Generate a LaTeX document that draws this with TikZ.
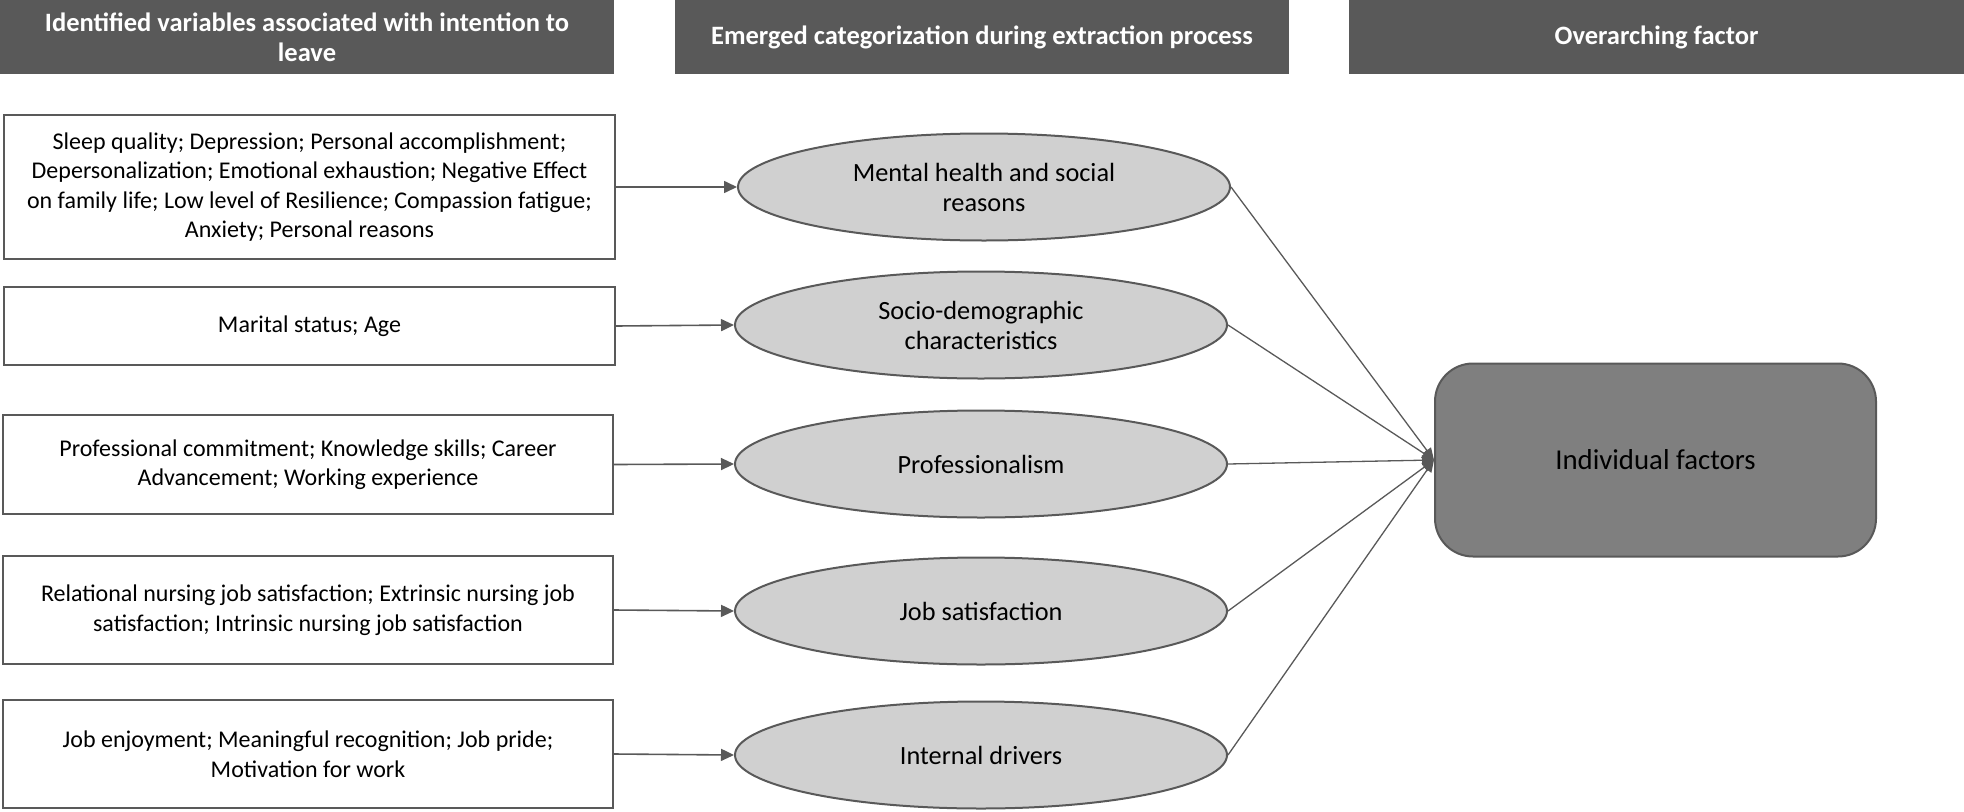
\documentclass[tikz,border=0pt]{standalone}
\usepackage{fontspec}
\setmainfont{Carlito}
\usetikzlibrary{shapes.geometric,arrows.meta}
\definecolor{hdr}{HTML}{595959}
\definecolor{edgec}{HTML}{595959}
\definecolor{ellc}{HTML}{D0D0D0}
\definecolor{indiv}{HTML}{7F7F7F}
\tikzset{
  header/.style={fill=hdr, draw=none, text=white, align=center, inner sep=0pt,
    font=\bfseries\fontsize{26.5pt}{30pt}\selectfont, minimum height=74pt},
  varbox/.style={draw=edgec, line width=2pt, fill=white, align=center, inner sep=0pt,
    font=\fontsize{24pt}{29.5pt}\selectfont},
  catell/.style={ellipse, draw=edgec, line width=2pt, fill=ellc, align=center, inner sep=0pt,
    minimum width=492pt, minimum height=107pt, font=\fontsize{26.3pt}{30pt}\selectfont},
  factbox/.style={rectangle, rounded corners=38pt, draw=edgec, line width=2pt, fill=indiv,
    minimum width=441pt, minimum height=193pt, font=\fontsize{28.8pt}{32pt}\selectfont},
  arr/.style={draw=edgec, line width=1.6pt, -{Triangle[length=13pt,width=12pt]}},
  conv/.style={draw=edgec, line width=1.3pt, -{Triangle[length=12pt,width=10pt]}}
}
\begin{document}
\begin{tikzpicture}[x=1pt,y=-1pt]
\useasboundingbox (0,0) rectangle (1964,811);
% headers
\node[header, minimum width=614pt] (h1) at (307,37) {Identified variables associated with intention to\\leave};
\node[header, minimum width=614pt] (h2) at (982,37) {Emerged categorization during extraction process};
\node[header, minimum width=615pt] (h3) at (1656.5,37) {Overarching factor};
% left boxes
\node[varbox, minimum width=611pt, minimum height=144pt] (b1) at (309.5,187) {Sleep quality; Depression; Personal accomplishment;\\Depersonalization; Emotional exhaustion; Negative Effect\\on family life; Low level of Resilience; Compassion fatigue;\\Anxiety; Personal reasons};
\node[varbox, minimum width=611pt, minimum height=78pt] (b2) at (309.5,326) {Marital status; Age};
\node[varbox, minimum width=610pt, minimum height=99pt] (b3) at (308,464.5) {Professional commitment; Knowledge skills; Career\\Advancement; Working experience};
\node[varbox, minimum width=610pt, minimum height=108pt] (b4) at (308,610) {Relational nursing job satisfaction; Extrinsic nursing job\\satisfaction; Intrinsic nursing job satisfaction};
\node[varbox, minimum width=610pt, minimum height=108pt] (b5) at (308,754) {Job enjoyment; Meaningful recognition; Job pride;\\Motivation for work};
% ellipses
\node[catell] (e1) at (984,187) {Mental health and social\\reasons};
\node[catell] (e2) at (981,325) {Socio-demographic\\characteristics};
\node[catell] (e3) at (981,464) {Professionalism};
\node[catell] (e4) at (981,611) {Job satisfaction};
\node[catell] (e5) at (981,755) {Internal drivers};
% overarching factor
\node[factbox] (f) at (1655.5,460) {Individual factors};
% arrows
\draw[arr] (b1.east) -- (e1.west);
\draw[arr] (b2.east) -- (e2.west);
\draw[arr] (b3.east) -- (e3.west);
\draw[arr] (b4.east) -- (e4.west);
\draw[arr] (b5.east) -- (e5.west);
\foreach \e in {e1,e2,e3,e4,e5}{
  \draw[conv] (\e.east) -- (f.west);
}
\end{tikzpicture}
\end{document}
